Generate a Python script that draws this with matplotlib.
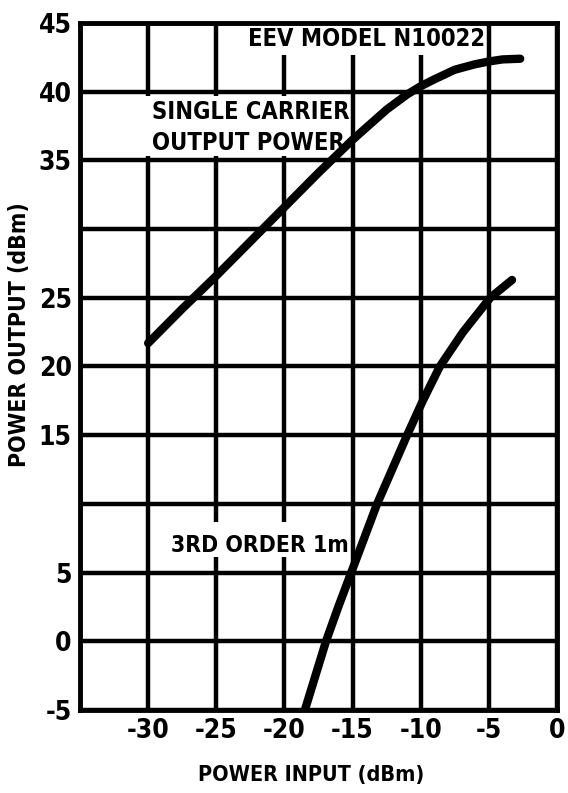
import matplotlib
matplotlib.use("Agg")
import matplotlib.pyplot as plt
from matplotlib.patches import Rectangle

# Data
sc_x = [-30, -27.5, -25, -22.5, -20, -17.5, -15, -12.5, -11, -10, -9, -7.5, -6, -5, -4, -2.7]
sc_y = [21.7, 24.2, 26.6, 29.1, 31.6, 34.1, 36.5, 38.7, 39.8, 40.4, 40.9, 41.6, 42.0, 42.2, 42.35, 42.4]
im_x = [-18.5, -16.95, -16.05, -15.1, -14.15, -13.2, -12.1, -11.0, -9.85, -8.6, -6.9, -4.9, -3.3]
im_y = [-5, 0, 2.5, 5, 7.5, 10, 12.5, 15, 17.5, 20, 22.5, 25, 26.3]

x_ticks = [-30, -25, -20, -15, -10, -5, 0]
x_labels = ["-30", "-25", "-20", "-15", "-10", "-5", "0"]
y_ticks = [-5, 0, 5, 15, 20, 25, 35, 40, 45]
y_labels = ["-5", "0", "5", "15", "20", "25", "35", "40", "45"]
grid_x = [-35, -30, -25, -20, -15, -10, -5, 0]
grid_y = [-5, 0, 5, 10, 15, 20, 25, 30, 35, 40, 45]

FONT = dict(family=["DejaVu Sans"], fontweight="bold", fontstretch="condensed")

fig = plt.figure(figsize=(5.68, 7.93), dpi=100)
ax = fig.add_axes([80/568, 83/793, 477/568, 687/793])
ax.set_xlim(-35, 0)
ax.set_ylim(-5, 45)

for gx in grid_x:
    ax.axvline(gx, color="black", lw=3.2, zorder=1)
for gy in grid_y:
    ax.axhline(gy, color="black", lw=3.2, zorder=1)

# white label backgrounds hiding grid
ax.add_patch(Rectangle((-22.5, 42.7), 17.2, 2.2, facecolor="white", edgecolor="none", zorder=2))
ax.add_patch(Rectangle((-34.9, 35.3), 19.7, 4.4, facecolor="white", edgecolor="none", zorder=2))
ax.add_patch(Rectangle((-28.8, 6.1), 13.2, 2.6, facecolor="white", edgecolor="none", zorder=2))

ax.text(-14.0, 43.8, "EEV MODEL N10022", ha="center", va="center", fontsize=17, zorder=3, **FONT)
ax.text(-29.7, 38.5, "SINGLE CARRIER", ha="left", va="center", fontsize=17, zorder=3, **FONT)
ax.text(-29.7, 36.3, "OUTPUT POWER", ha="left", va="center", fontsize=17, zorder=3, **FONT)
ax.text(-28.3, 7.0, "3RD ORDER 1m", ha="left", va="center", fontsize=16.5, zorder=3, **FONT)

ax.plot(sc_x, sc_y, color="black", lw=6, solid_capstyle="round", solid_joinstyle="round", zorder=4)
ax.plot(im_x, im_y, color="black", lw=6, solid_capstyle="round", solid_joinstyle="round", zorder=4)

for s in ax.spines.values():
    s.set_linewidth(3.5)
    s.set_zorder(5)

ax.set_xticks(x_ticks)
ax.set_xticklabels(x_labels, fontsize=19, **FONT)
ax.set_yticks(y_ticks)
ax.set_yticklabels(y_labels, fontsize=19, **FONT)
ax.tick_params(length=0, pad=6)

fig.text(311/568, 1 - 775/793, "POWER INPUT (dBm)", ha="center", va="center", fontsize=15.5, **FONT)
fig.text(20/568, 1 - 335/793, "POWER OUTPUT (dBm)", ha="center", va="center", rotation=90, fontsize=16.5, **FONT)

fig.savefig("out.png", dpi=100, facecolor="white")
